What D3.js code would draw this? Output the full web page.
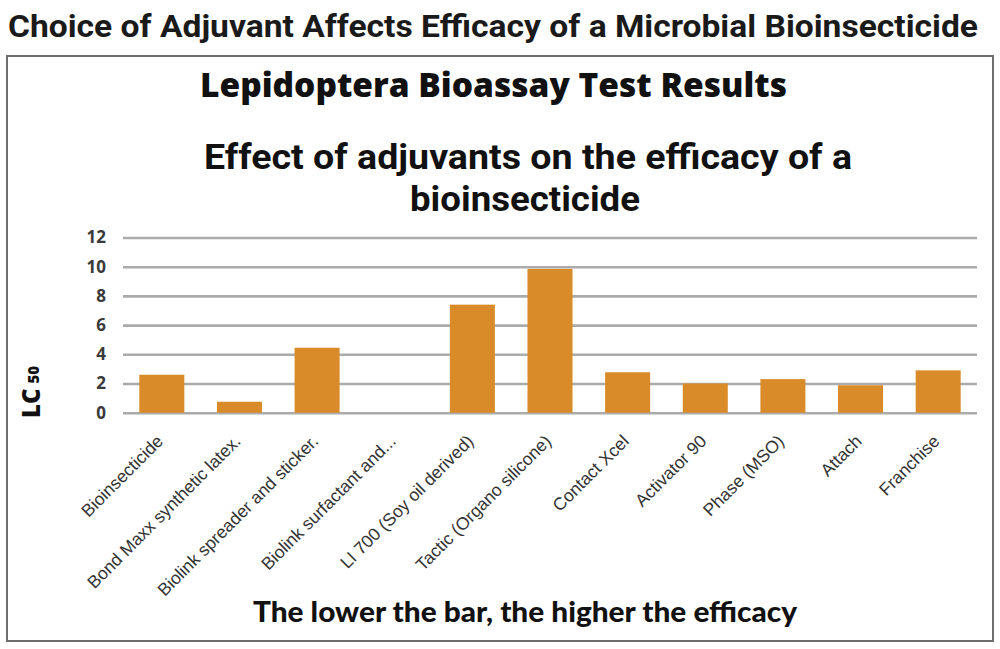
<!DOCTYPE html>
<html>
<head>
<meta charset="utf-8">
<script src="https://cdn.jsdelivr.net/npm/d3@7"></script>
<style>
  html, body { margin: 0; padding: 0; background: #fff; }
  svg { display: block; }
</style>
</head>
<body>
<svg id="chart" width="1000" height="649"></svg>
<script>
const categories = [
  "Bioinsecticide",
  "Bond Maxx synthetic latex.",
  "Biolink spreader and sticker.",
  "Biolink surfactant and...",
  "LI 700 (Soy oil derived)",
  "Tactic (Organo silicone)",
  "Contact Xcel",
  "Activator 90",
  "Phase (MSO)",
  "Attach",
  "Franchise"
];
const lc50 = [2.6, 0.75, 4.45, 0, 7.4, 9.85, 2.77, 2.0, 2.3, 1.88, 2.9];
const yTicks = [0, 2, 4, 6, 8, 10, 12];

const svg = d3.select("#chart");
svg.append("rect").attr("x", 0).attr("y", 0).attr("width", 1000).attr("height", 649).attr("fill", "#fff");

// Page title
svg.append("text")
  .attr("x", 8).attr("y", 37)
  .attr("font-family", "'Liberation Sans Narrow', 'Roboto', 'Liberation Sans', sans-serif")
  .attr("font-weight", 700)
  .attr("font-size", 32)
  .attr("fill", "#1a1a1a")
  .attr("textLength", 970)
  .attr("lengthAdjust", "spacingAndGlyphs")
  .text("Choice of Adjuvant Affects Efficacy of a Microbial Bioinsecticide");

// Frame
svg.append("rect")
  .attr("x", 7).attr("y", 56).attr("width", 986).attr("height", 585)
  .attr("fill", "none").attr("stroke", "#6e6e6e").attr("stroke-width", 2);

// Chart titles
svg.append("text")
  .attr("x", 200).attr("y", 97)
  .attr("font-family", "'Open Sans', sans-serif")
  .attr("font-weight", 800).attr("font-size", 33)
  .attr("fill", "#111")
  .attr("textLength", 587)
  .attr("lengthAdjust", "spacingAndGlyphs")
  .text("Lepidoptera Bioassay Test Results");

svg.append("text")
  .attr("x", 204).attr("y", 169)
  .attr("font-family", "Roboto, sans-serif")
  .attr("font-weight", 700).attr("font-size", 35)
  .attr("fill", "#111")
  .attr("textLength", 648)
  .attr("lengthAdjust", "spacingAndGlyphs")
  .text("Effect of adjuvants on the efficacy of a");

svg.append("text")
  .attr("x", 410).attr("y", 211)
  .attr("font-family", "Roboto, sans-serif")
  .attr("font-weight", 700).attr("font-size", 35)
  .attr("fill", "#111")
  .attr("textLength", 230)
  .attr("lengthAdjust", "spacingAndGlyphs")
  .text("bioinsecticide");

// Scales
const x = d3.scaleBand().domain(categories).range([123, 977]).paddingInner(0.42).paddingOuter(0.21);
const y = d3.scaleLinear().domain([0, 12]).range([412.7, 237.5]);

// Gridlines
const grid = svg.append("g")
  .attr("transform", "translate(123,0)")
  .call(d3.axisLeft(y).tickValues(yTicks).tickSize(-854).tickFormat(""));
grid.select(".domain").remove();
grid.selectAll(".tick line").attr("stroke", "#ababab").attr("stroke-width", 2.6);

// Y tick labels
const yAxis = svg.append("g")
  .attr("transform", "translate(106,0)")
  .call(d3.axisLeft(y).tickValues(yTicks).tickSize(0).tickPadding(0));
yAxis.select(".domain").remove();
yAxis.selectAll(".tick text")
  .attr("font-family", "'Open Sans', sans-serif")
  .attr("font-weight", 700)
  .attr("font-size", 17)
  .attr("fill", "#3a3a3a");

// Bars
svg.append("g").selectAll("rect")
  .data(lc50)
  .join("rect")
  .attr("x", (d, i) => x(categories[i]))
  .attr("width", x.bandwidth())
  .attr("y", d => y(d))
  .attr("height", d => y(0) - y(d))
  .attr("fill", "#D98B29");

// X tick labels
const xAxis = svg.append("g")
  .attr("transform", "translate(0,413)")
  .call(d3.axisBottom(x).tickSize(0).tickPadding(0));
xAxis.select(".domain").remove();
xAxis.selectAll(".tick text")
  .attr("font-family", "'Liberation Sans', Arial, sans-serif")
  .attr("font-size", 17.5)
  .attr("fill", "#333")
  .attr("text-anchor", "end")
  .attr("dy", "0.35em")
  .attr("transform", "translate(-2,25) rotate(-45)");

// Y axis label LC50
const yl = svg.append("text")
  .attr("transform", "translate(40,418) rotate(-90)")
  .attr("font-family", "'Open Sans', sans-serif")
  .attr("font-weight", 800)
  .attr("fill", "#111");
yl.append("tspan").attr("font-size", 24).text("LC");
yl.append("tspan").attr("font-size", 15).attr("dx", 5).attr("dy", -1).text("50");

// X axis title
svg.append("text")
  .attr("x", 253).attr("y", 622)
  .attr("font-family", "Lato, 'Open Sans', sans-serif")
  .attr("font-weight", 900).attr("font-size", 28)
  .attr("fill", "#111")
  .attr("textLength", 544)
  .attr("lengthAdjust", "spacingAndGlyphs")
  .text("The lower the bar, the higher the efficacy");
</script>
</body>
</html>
